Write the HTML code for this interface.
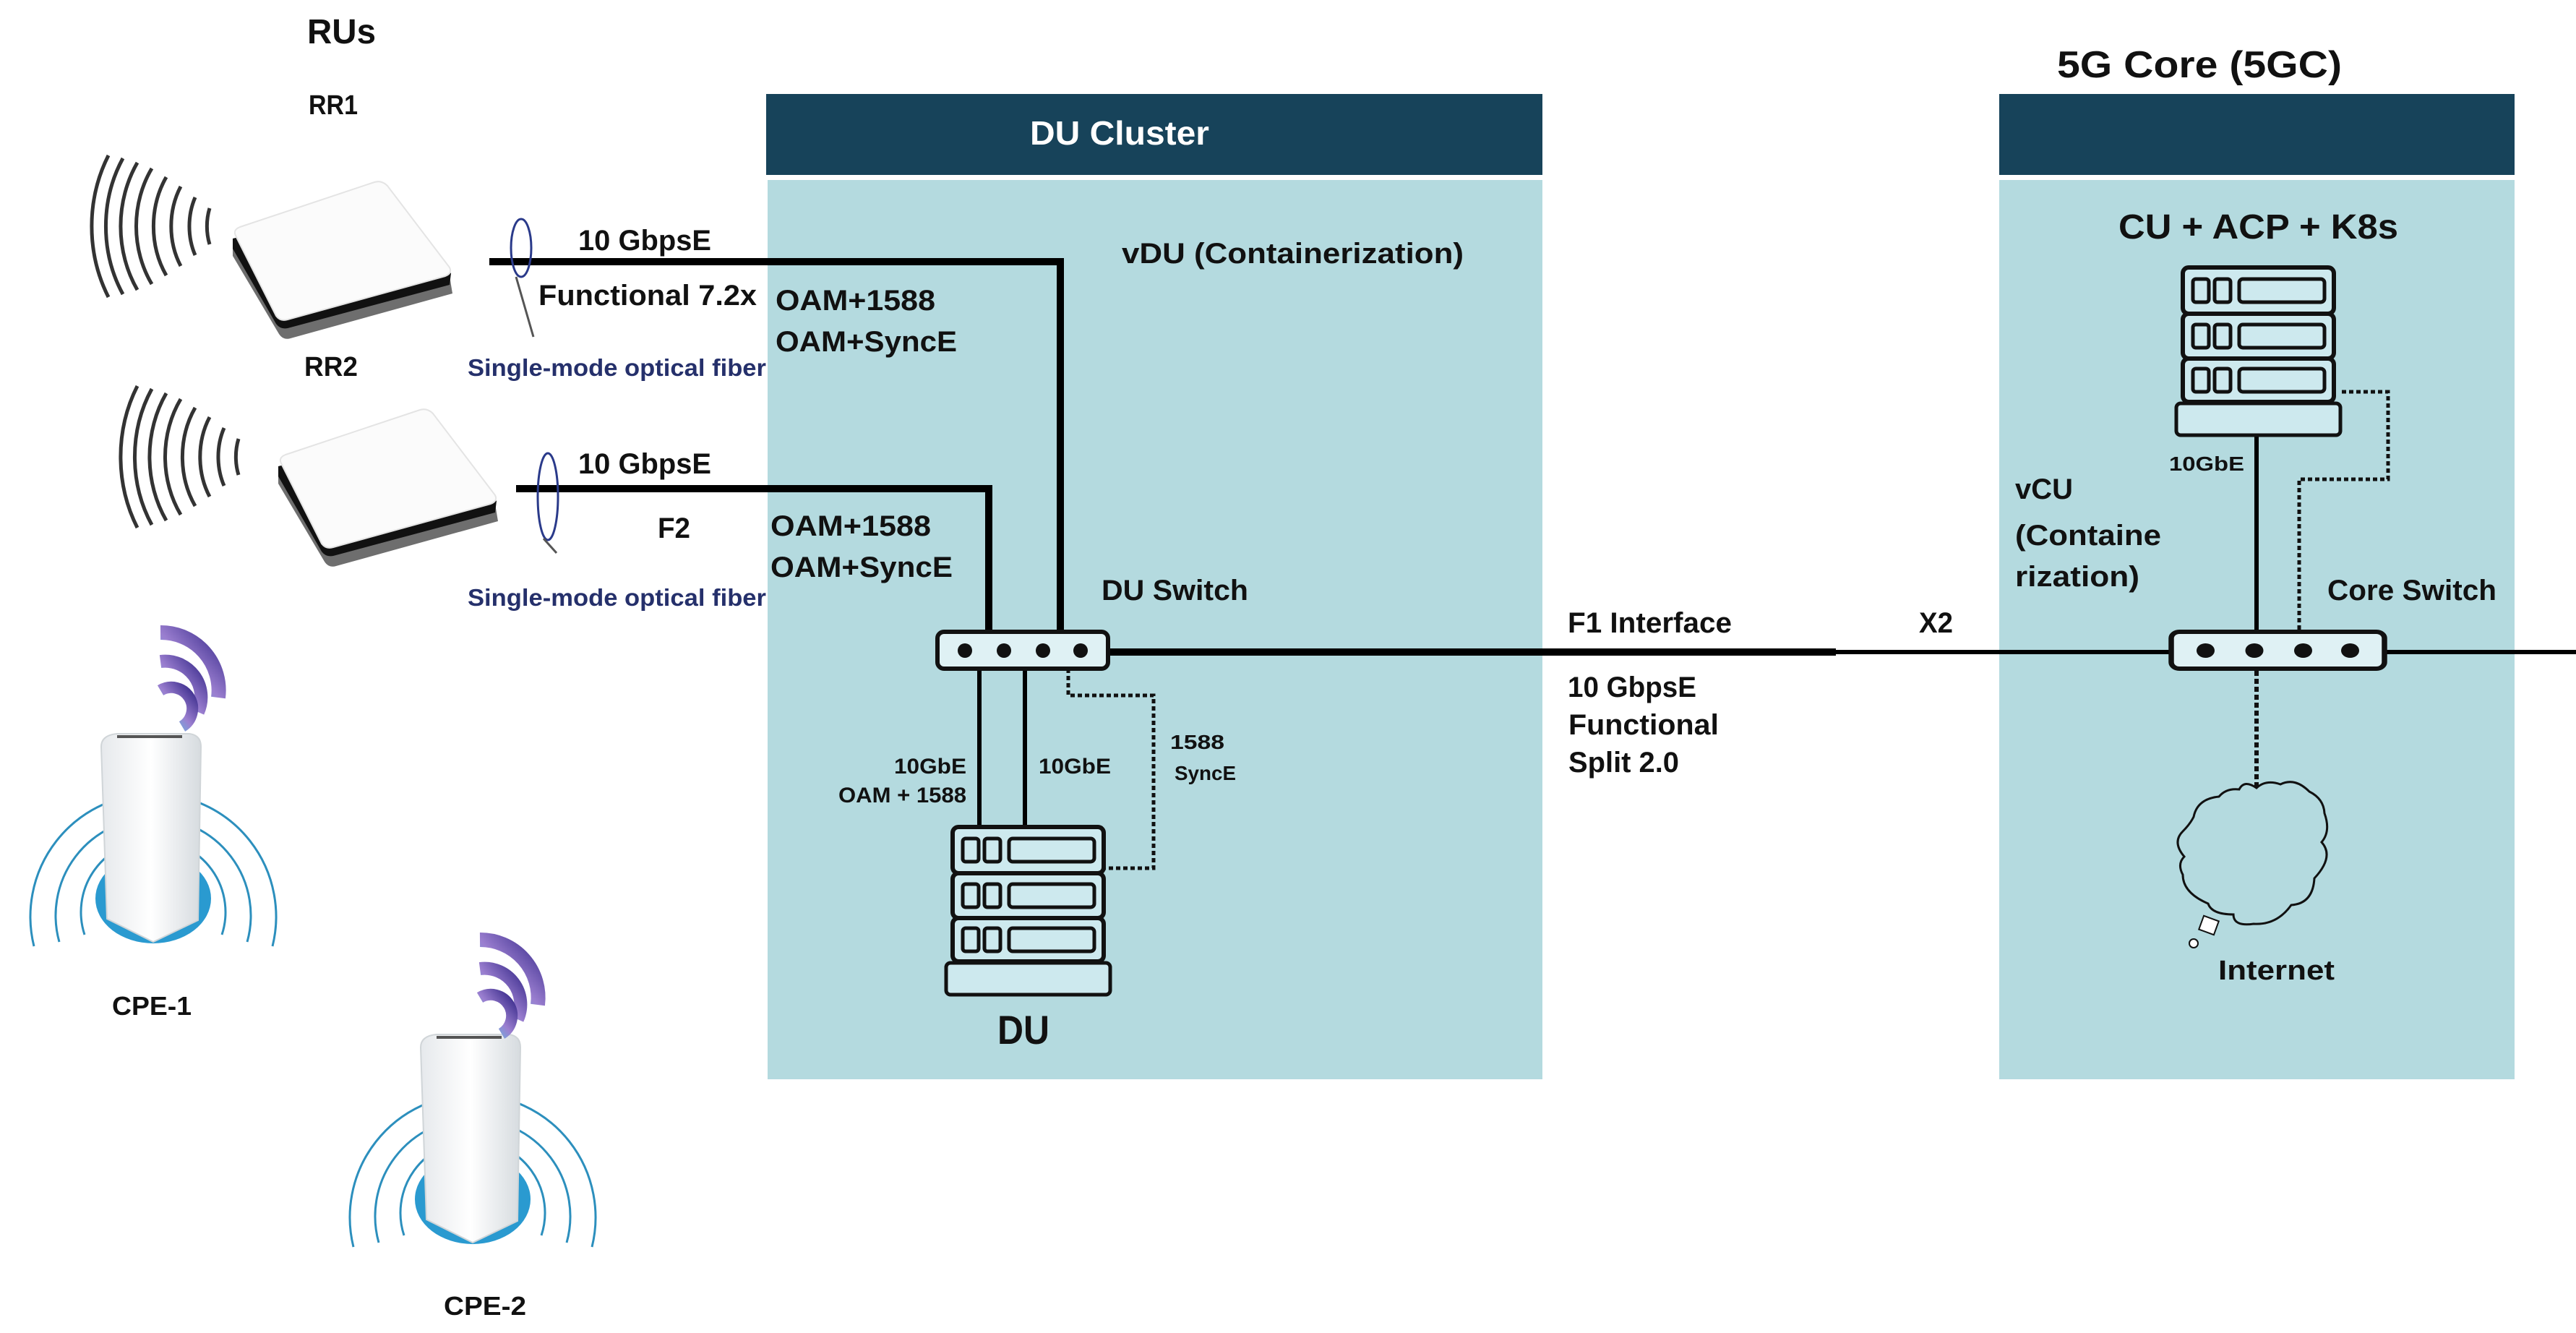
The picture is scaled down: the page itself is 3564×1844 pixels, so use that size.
<!DOCTYPE html>
<html><head><meta charset="utf-8"><style>
html,body{margin:0;padding:0;background:#fff;}
svg{display:block;}
text{font-family:"Liberation Sans",sans-serif;font-weight:bold;fill:#111;}
</style></head><body>
<svg width="3564" height="1844" viewBox="0 0 3564 1844" xmlns="http://www.w3.org/2000/svg">
<defs>
<linearGradient id="cpegrad" x1="0" x2="1"><stop offset="0" stop-color="#e6e9ec"/><stop offset="0.5" stop-color="#ffffff"/><stop offset="1" stop-color="#d6dbdf"/></linearGradient>
<linearGradient id="wf" x1="0" y1="1" x2="1" y2="0"><stop offset="0" stop-color="#4fd3e8"/><stop offset="0.5" stop-color="#9b7fd0"/><stop offset="1" stop-color="#3a2c8c"/></linearGradient>
<g id="server">
 <rect x="0" y="0" width="209" height="64" rx="8" fill="#cde9ee" stroke="#111" stroke-width="6"/>
 <rect x="14" y="16" width="22" height="32" rx="4" fill="none" stroke="#111" stroke-width="5"/>
 <rect x="44" y="16" width="22" height="32" rx="4" fill="none" stroke="#111" stroke-width="5"/>
 <rect x="78" y="16" width="118" height="32" rx="5" fill="none" stroke="#111" stroke-width="5"/>
 <rect x="0" y="64" width="209" height="62" rx="8" fill="#cde9ee" stroke="#111" stroke-width="6"/>
 <rect x="14" y="79" width="22" height="32" rx="4" fill="none" stroke="#111" stroke-width="5"/>
 <rect x="44" y="79" width="22" height="32" rx="4" fill="none" stroke="#111" stroke-width="5"/>
 <rect x="78" y="79" width="118" height="32" rx="5" fill="none" stroke="#111" stroke-width="5"/>
 <rect x="0" y="126" width="209" height="60" rx="8" fill="#cde9ee" stroke="#111" stroke-width="6"/>
 <rect x="14" y="140" width="22" height="32" rx="4" fill="none" stroke="#111" stroke-width="5"/>
 <rect x="44" y="140" width="22" height="32" rx="4" fill="none" stroke="#111" stroke-width="5"/>
 <rect x="78" y="140" width="118" height="32" rx="5" fill="none" stroke="#111" stroke-width="5"/>
 <rect x="-9" y="188" width="227" height="44" rx="6" fill="#cde9ee" stroke="#111" stroke-width="5"/>
</g>
<g id="switch">
 <rect x="0" y="0" width="236" height="51" rx="9" fill="#dff1f4" stroke="#111" stroke-width="6"/>
 <circle cx="38" cy="26" r="10" fill="#111"/><circle cx="92" cy="26" r="10" fill="#111"/>
 <circle cx="146" cy="26" r="10" fill="#111"/><circle cx="198" cy="26" r="10" fill="#111"/>
</g>
<g id="ru">
 <path d="M0,50 L206,-0 Q215,-2 222,5 L300,92 L304,116 L80,178 Q70,181 64,172 L0,64 Z" fill="#6e6e6e"/>
 <path d="M0,40 L200,-8 Q210,-10 218,-2 L302,88 L300,104 L76,164 Q66,166 60,158 L0,54 Z" fill="#111"/>
 <path d="M4,36 Q0,28 10,24 L196,-38 Q206,-41 214,-33 L300,80 Q304,88 294,92 L76,152 Q66,155 60,147 Z" fill="#fbfbfb" stroke="#e4e4e4" stroke-width="2"/>
</g>
<g id="waves" fill="none" stroke="#333" stroke-width="5">
 <path d="M-10,-25 A40,60 0 0 0 -10,25"/>
 <path d="M-30,-40 A60,80 0 0 0 -30,40"/>
 <path d="M-50,-55 A80,100 0 0 0 -50,55"/>
 <path d="M-70,-68 A100,120 0 0 0 -70,68"/>
 <path d="M-90,-80 A120,140 0 0 0 -90,80"/>
 <path d="M-110,-88 A140,160 0 0 0 -110,88"/>
 <path d="M-130,-94 A160,180 0 0 0 -130,94"/>
 <path d="M-150,-98 A180,200 0 0 0 -150,98"/>
</g>
<g id="cpedev">
 <path d="M-165,66 A170,170 0 1 1 165,66" fill="none" stroke="#2c8fbd" stroke-width="3"/>
 <path d="M-130,60 A135,135 0 1 1 130,60" fill="none" stroke="#2c8fbd" stroke-width="3"/>
 <path d="M-95,50 A100,100 0 1 1 95,50" fill="none" stroke="#2c8fbd" stroke-width="3"/>
 <ellipse cx="0" cy="0" rx="80" ry="62" fill="#2a9ad0"/>
 <ellipse cx="0" cy="-8" rx="55" ry="40" fill="#c9eef8"/>
 <path d="M-72,-210 Q-72,-226 -50,-228 L50,-228 Q66,-226 66,-210 L62,30 L0,60 L-64,28 Z" fill="url(#cpegrad)" stroke="#d0d5d8" stroke-width="2"/>
 <path d="M-50,-224 L40,-224" stroke="#555" stroke-width="4"/>
</g>
<g id="wifi" fill="none" stroke="url(#wf)" stroke-linecap="butt">
 <path d="M-40,-60 A80,80 0 0 1 40,30" stroke-width="20"/>
 <path d="M-40,-20 A50,50 0 0 1 12,50" stroke-width="18"/>
 <path d="M-40,20 A25,25 0 0 1 -10,70" stroke-width="16"/>
</g>
</defs>

<rect x="1060" y="130" width="1074" height="112" fill="#17435a"/>
<rect x="1062" y="249" width="1072" height="1244" fill="#b4dadf"/>
<rect x="2766" y="130" width="713" height="112" fill="#17435a"/>
<rect x="2766" y="249" width="713" height="1244" fill="#b4dadf"/>

<text x="425" y="60" font-size="48" textLength="95" lengthAdjust="spacingAndGlyphs">RUs</text>
<text x="427" y="158" font-size="38" textLength="68" lengthAdjust="spacingAndGlyphs">RR1</text>
<text x="421" y="520" font-size="38" textLength="74" lengthAdjust="spacingAndGlyphs">RR2</text>
<text x="2846" y="107" font-size="52" textLength="394" lengthAdjust="spacingAndGlyphs">5G Core (5GC)</text>
<text x="1425" y="200" font-size="46" textLength="248" lengthAdjust="spacingAndGlyphs" style="fill:#fff">DU Cluster</text>
<text x="1552" y="364" font-size="40" textLength="473" lengthAdjust="spacingAndGlyphs">vDU (Containerization)</text>
<text x="2931" y="330" font-size="48" textLength="387" lengthAdjust="spacingAndGlyphs">CU + ACP + K8s</text>

<use href="#waves" x="300" y="313"/>
<use href="#ru" x="322" y="290"/>
<use href="#waves" x="340" y="632"/>
<use href="#ru" x="385" y="605"/>

<polyline points="677,362 1467,362 1467,876" fill="none" stroke="#000" stroke-width="10"/>
<polyline points="714,676 1368,676 1368,876" fill="none" stroke="#000" stroke-width="10"/>
<ellipse cx="721" cy="343" rx="14" ry="40" fill="none" stroke="#2a3a8a" stroke-width="3"/>
<line x1="714" y1="383" x2="738" y2="466" stroke="#555" stroke-width="3"/>
<ellipse cx="758" cy="687" rx="14" ry="60" fill="none" stroke="#2a3a8a" stroke-width="3"/>
<line x1="752" y1="745" x2="770" y2="765" stroke="#555" stroke-width="3"/>

<text x="800" y="346" font-size="40" textLength="184" lengthAdjust="spacingAndGlyphs">10 GbpsE</text>
<text x="745" y="422" font-size="40" textLength="302" lengthAdjust="spacingAndGlyphs">Functional 7.2x</text>
<text x="1073" y="429" font-size="40" textLength="221" lengthAdjust="spacingAndGlyphs">OAM+1588</text>
<text x="1073" y="486" font-size="40" textLength="251" lengthAdjust="spacingAndGlyphs">OAM+SyncE</text>
<text x="647" y="520" font-size="33" textLength="413" lengthAdjust="spacingAndGlyphs" style="fill:#25306b">Single-mode optical fiber</text>
<text x="800" y="655" font-size="40" textLength="184" lengthAdjust="spacingAndGlyphs">10 GbpsE</text>
<text x="910" y="744" font-size="40" textLength="45" lengthAdjust="spacingAndGlyphs">F2</text>
<text x="1066" y="741" font-size="40" textLength="222" lengthAdjust="spacingAndGlyphs">OAM+1588</text>
<text x="1066" y="798" font-size="40" textLength="252" lengthAdjust="spacingAndGlyphs">OAM+SyncE</text>
<text x="647" y="838" font-size="33" textLength="413" lengthAdjust="spacingAndGlyphs" style="fill:#25306b">Single-mode optical fiber</text>
<text x="1524" y="830" font-size="40" textLength="203" lengthAdjust="spacingAndGlyphs">DU Switch</text>

<line x1="1530" y1="902" x2="2540" y2="902" stroke="#000" stroke-width="10"/>
<line x1="2535" y1="902" x2="3564" y2="902" stroke="#000" stroke-width="6"/>

<line x1="1355" y1="925" x2="1355" y2="1146" stroke="#000" stroke-width="6"/>
<line x1="1418" y1="925" x2="1418" y2="1146" stroke="#000" stroke-width="6"/>
<polyline points="1478,925 1478,962 1596,962 1596,1201 1529,1201" fill="none" stroke="#111" stroke-width="5" stroke-dasharray="6,4"/>
<use href="#switch" x="1297" y="874"/>
<use href="#server" x="1318" y="1144"/>
<text x="1337" y="1070" font-size="30" text-anchor="end" textLength="100" lengthAdjust="spacingAndGlyphs">10GbE</text>
<text x="1337" y="1110" font-size="30" text-anchor="end" textLength="177" lengthAdjust="spacingAndGlyphs">OAM + 1588</text>
<text x="1437" y="1070" font-size="30" textLength="100" lengthAdjust="spacingAndGlyphs">10GbE</text>
<text x="1619" y="1036" font-size="28" textLength="75" lengthAdjust="spacingAndGlyphs">1588</text>
<text x="1625" y="1079" font-size="28" textLength="85" lengthAdjust="spacingAndGlyphs">SyncE</text>
<text x="1380" y="1444" font-size="56" textLength="72" lengthAdjust="spacingAndGlyphs">DU</text>

<text x="2169" y="875" font-size="40" textLength="227" lengthAdjust="spacingAndGlyphs">F1 Interface</text>
<text x="2655" y="875" font-size="40" textLength="47" lengthAdjust="spacingAndGlyphs">X2</text>
<text x="2169" y="964" font-size="40" textLength="178" lengthAdjust="spacingAndGlyphs">10 GbpsE</text>
<text x="2170" y="1016" font-size="40" textLength="208" lengthAdjust="spacingAndGlyphs">Functional</text>
<text x="2170" y="1068" font-size="40" textLength="153" lengthAdjust="spacingAndGlyphs">Split 2.0</text>

<line x1="3122" y1="600" x2="3122" y2="876" stroke="#000" stroke-width="6"/>
<polyline points="3240,542 3304,542 3304,663 3181,663 3181,876" fill="none" stroke="#111" stroke-width="5" stroke-dasharray="6,4"/>
<use href="#server" x="3020" y="370"/>
<g transform="translate(3004,874) scale(1.25,1)"><use href="#switch"/></g>
<line x1="3122" y1="928" x2="3122" y2="1100" stroke="#111" stroke-width="6" stroke-dasharray="7,4"/>
<path d="M3098,1092 Q3105,1078 3122,1090 Q3135,1078 3155,1085 Q3175,1075 3195,1095 Q3215,1105 3216,1125 Q3225,1150 3212,1165 Q3230,1185 3202,1215 Q3200,1250 3170,1252 Q3150,1280 3118,1278 Q3090,1282 3090,1265 Q3060,1265 3055,1250 Q3020,1235 3020,1210 Q3012,1195 3022,1185 Q3005,1165 3020,1150 Q3030,1140 3035,1130 Q3040,1105 3070,1102 Q3080,1090 3098,1092 Z" fill="#b4dadf" stroke="#111" stroke-width="3"/>
<rect x="3045" y="1270" width="22" height="20" fill="#fff" stroke="#111" stroke-width="2" transform="rotate(20 3056 1280)"/>
<circle cx="3035" cy="1305" r="6" fill="#fff" stroke="#111" stroke-width="2"/>
<text x="3069" y="1355" font-size="38" textLength="161" lengthAdjust="spacingAndGlyphs">Internet</text>
<text x="3001" y="651" font-size="28" textLength="104" lengthAdjust="spacingAndGlyphs">10GbE</text>
<text x="2788" y="690" font-size="40" textLength="80" lengthAdjust="spacingAndGlyphs">vCU</text>
<text x="2788" y="754" font-size="40" textLength="202" lengthAdjust="spacingAndGlyphs">(Containe</text>
<text x="2788" y="811" font-size="40" textLength="172" lengthAdjust="spacingAndGlyphs">rization)</text>
<text x="3220" y="830" font-size="40" textLength="234" lengthAdjust="spacingAndGlyphs">Core Switch</text>

<use href="#cpedev" x="212" y="1243"/>
<use href="#wifi" x="262" y="935"/>
<text x="155" y="1404" font-size="36" textLength="110" lengthAdjust="spacingAndGlyphs">CPE-1</text>
<use href="#cpedev" x="654" y="1659"/>
<use href="#wifi" x="704" y="1360"/>
<text x="614" y="1819" font-size="36" textLength="114" lengthAdjust="spacingAndGlyphs">CPE-2</text>
</svg>
</body></html>
